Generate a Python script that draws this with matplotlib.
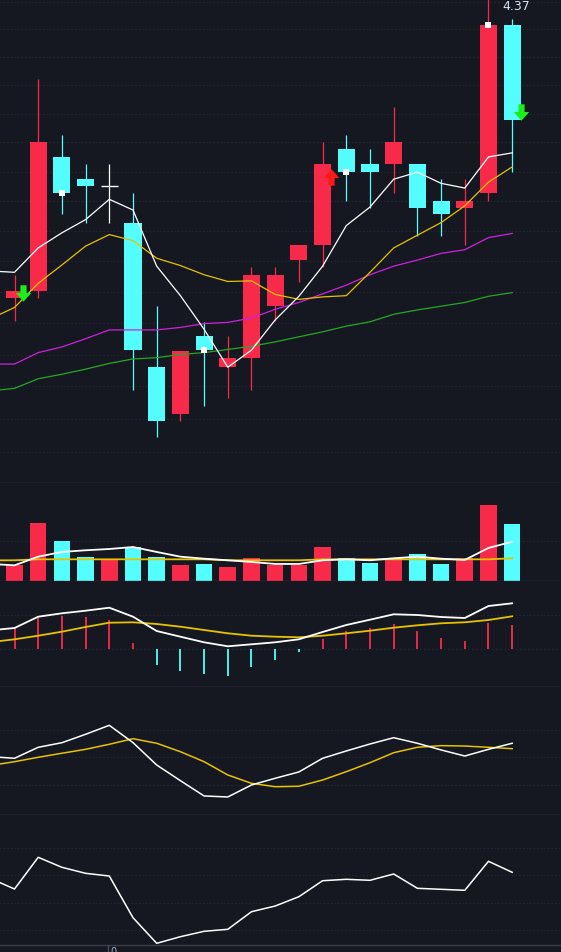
import numpy as np
import matplotlib
matplotlib.use('Agg')
import matplotlib.pyplot as plt
from matplotlib.path import Path
from matplotlib.ticker import NullLocator

# ---------------- data ----------------
idx = list(range(22))
opens  = [3.840, 3.852, 4.075, 4.037, 4.025, 3.964, 3.731, 3.657, 3.779, 3.731, 3.744,
          3.828, 3.902, 3.927, 4.088, 4.063, 4.063, 4.063, 4.001, 3.989, 4.014, 4.308]
highs  = [3.878, 4.210, 4.112, 4.063, 4.063, 4.014, 3.827, 3.756, 3.802, 3.779, 3.891,
          3.891, 3.927, 4.100, 4.112, 4.088, 4.162, 4.063, 4.037, 4.037, 4.370, 4.319]
lows   = [3.803, 3.840, 3.978, 3.964, 3.964, 3.695, 3.622, 3.646, 3.670, 3.682, 3.695,
          3.803, 3.866, 3.891, 4.001, 3.989, 4.014, 3.942, 3.941, 3.927, 4.001, 4.049]
closes = [3.852, 4.100, 4.014, 4.026, 4.025, 3.757, 3.646, 3.756, 3.757, 3.744, 3.877,
          3.877, 3.927, 4.063, 4.049, 4.049, 4.100, 3.989, 3.978, 4.001, 4.308, 4.138]

ma_idx = list(range(-1, 22))
ma5  = [3.884, 3.882, 3.922, 3.947, 3.969, 4.003, 3.985, 3.892, 3.844, 3.790, 3.730, 3.757,
        3.805, 3.843, 3.892, 3.959, 3.990, 4.037, 4.049, 4.030, 4.022, 4.075, 4.082]
ma10 = [3.807, 3.825, 3.864, 3.894, 3.925, 3.944, 3.934, 3.905, 3.893, 3.878, 3.867, 3.868,
        3.846, 3.838, 3.842, 3.844, 3.882, 3.922, 3.943, 3.964, 3.992, 4.032, 4.058]
ma20 = [3.735, 3.735, 3.753, 3.762, 3.775, 3.789, 3.789, 3.789, 3.793, 3.799, 3.801, 3.808,
        3.822, 3.833, 3.847, 3.861, 3.878, 3.892, 3.902, 3.913, 3.919, 3.939, 3.946]
ma60 = [3.693, 3.697, 3.712, 3.719, 3.727, 3.736, 3.743, 3.745, 3.750, 3.753, 3.758, 3.763,
        3.770, 3.778, 3.786, 3.795, 3.802, 3.814, 3.821, 3.827, 3.833, 3.843, 3.849]

mark_idx = [2, 8, 14, 20]          # small white squares at close
sell_idx, sell_price = [0, 21], [3.848, 4.152]
buy_idx, buy_price = [13], [4.040]
max_label = "4.37"
price_grid = [3.60, 3.65, 3.70, 3.75, 3.80, 3.85, 3.90, 3.95, 4.00, 4.05, 4.10, 4.15,
              4.20, 4.25, 4.30, 4.35]

volume = [20, 72.5, 50, 30, 27.1, 42.5, 30, 20, 21.3, 17.5, 28.8, 20, 20, 42.5, 28.8,
          22.5, 28.8, 33.8, 21.3, 28.8, 95, 71.3]
vol_ma5 = [21.3, 19.6, 30.4, 36.3, 38.4, 40.0, 42.5, 36.3, 30.4, 27.9, 25.9, 23.8, 21.3,
           21.3, 25.9, 27.1, 25.9, 28.4, 30.4, 27.9, 26.3, 41.3, 49.1]
vol_ma10 = [25.8, 25.9, 27.1, 27.1, 27.1, 27.1, 27.1, 27.1, 27.1, 27.1, 25.9, 25.9, 25.9,
            25.9, 27.1, 27.1, 27.1, 27.1, 27.1, 27.1, 27.1, 27.1, 28.4]

dif = [0.0190, 0.0213, 0.0326, 0.0360, 0.0386, 0.0416, 0.0326, 0.0183, 0.0126, 0.0070,
       0.0030, 0.0050, 0.0070, 0.0100, 0.0173, 0.0243, 0.0296, 0.0350, 0.0343, 0.0323,
       0.0313, 0.0433, 0.0460]
dea = [0.0072, 0.0100, 0.0136, 0.0176, 0.0223, 0.0266, 0.0270, 0.0253, 0.0226, 0.0193,
       0.0160, 0.0136, 0.0126, 0.0120, 0.0136, 0.0160, 0.0186, 0.0216, 0.0240, 0.0260,
       0.0270, 0.0293, 0.0330]
macd = [0.0213, 0.0333, 0.0333, 0.0323, 0.0293, 0.0063, -0.0154, -0.0217, -0.0244, -0.0267,
        -0.0177, -0.0107, -0.0027, 0.0103, 0.0183, 0.0213, 0.0253, 0.0183, 0.0113, 0.0083,
        0.0263, 0.0243]

k_line = [50.7, 48.9, 60.9, 65.9, 75.1, 84.9, 66.0, 41.6, 24.5, 7.8, 6.7, 19.8, 27.1, 34.0,
          48.9, 56.9, 64.5, 71.4, 65.3, 58.0, 51.4, 58.7, 65.3]
d_line = [41.1, 45.2, 50.0, 54.4, 58.7, 64.2, 70.3, 65.3, 56.1, 45.2, 30.7, 21.6, 17.9, 18.4,
          25.2, 34.3, 44.1, 55.0, 60.9, 62.7, 62.3, 60.9, 59.4]

cci = [-12.1, -50.2, 65.9, 29.3, 7.3, -2.6, -155.3, -249.1, -224.9, -205.1, -197.8, -133.3,
       -112.5, -78.4, -19.8, -14.7, -18.3, 4.8, -47.6, -51.3, -54.9, 51.3, 11.0]

# ---------------- style ----------------
BG = '#151820'
RED = '#f72a4a'
CYAN = '#55fefe'
GRID = '#2c303a'
SEP = '#3a3e48'
YEL = '#e6c200'
MAG = '#cc22dd'
GRN = '#22aa22'
XLIM = (-0.612, 23.06)
DOT = (0, (0.8, 2.4))

W, H = 561, 952
fig = plt.figure(figsize=(W / 100, H / 100), dpi=100, facecolor=BG)


def panel(top_px, bot_px):
    ax = fig.add_axes([0, 1 - bot_px / H, 1, (bot_px - top_px) / H])
    ax.set_facecolor(BG)
    ax.set_xlim(*XLIM)
    for s in ('top', 'left', 'right'):
        ax.spines[s].set_visible(False)
    ax.spines['bottom'].set_color(SEP)
    ax.spines['bottom'].set_linewidth(1.0)
    ax.tick_params(which='both', left=False, bottom=False, labelleft=False, labelbottom=False)
    return ax


# ---- main price panel ----
ax = panel(0, 483)
ax.set_yscale('log')
ax.set_ylim(3.5527, 4.3531)
ax.yaxis.set_major_locator(NullLocator())
ax.yaxis.set_minor_locator(NullLocator())
ax.xaxis.set_major_locator(NullLocator())
for g in price_grid:
    ax.axhline(g, color=GRID, lw=0.8, ls=DOT, zorder=0)

bw = 0.72
for i, o, h, l, c in zip(idx, opens, highs, lows, closes):
    if c > o:
        col = RED
    elif c < o:
        col = CYAN
    else:
        col = 'white'
    ax.vlines(i, l, h, color=col, lw=0.9, zorder=2)
    if c == o:
        ax.hlines(c, i - bw / 2, i + bw / 2, color=col, lw=1.0, zorder=3)
    else:
        ax.bar(i, abs(c - o), bottom=min(o, c), width=bw, color=col, lw=0, zorder=3)

ax.plot(ma_idx, ma60, color=GRN, lw=0.9, zorder=4)
ax.plot(ma_idx, ma20, color=MAG, lw=0.9, zorder=4)
ax.plot(ma_idx, ma10, color=YEL, lw=0.9, zorder=4)
ax.plot(ma_idx, ma5, color='white', lw=0.9, zorder=4)

ax.scatter(mark_idx, [closes[i] for i in mark_idx], marker='s', s=14, color='white',
           lw=0, zorder=5)

down_verts = [(-3, 8), (3, 8), (3, 0.5), (7.5, 0.5), (0, -8), (-7.5, 0.5), (-3, 0.5), (-3, 8)]
down_codes = [Path.MOVETO] + [Path.LINETO] * 6 + [Path.CLOSEPOLY]
down_arrow = Path(down_verts, down_codes)
up_arrow = Path([(x, -y) for x, y in down_verts], down_codes)
ax.scatter([i + 0.36 for i in sell_idx], sell_price, marker=down_arrow, s=140,
           color='#19f019', lw=0, zorder=6)
ax.scatter([i + 0.36 for i in buy_idx], buy_price, marker=up_arrow, s=140,
           color='#ff1a1a', lw=0, zorder=6)

top_i = int(np.argmax(highs))
ax.annotate(max_label, xy=(top_i, highs[top_i]), xytext=(19.8, -11.2),
            textcoords='offset points', color='#d6e2f5', fontsize=9,
            ha='center', va='center', annotation_clip=False,
            arrowprops=dict(arrowstyle='-', color='#d6e2f5', lw=0.8, shrinkA=0, shrinkB=2))

# ---- volume panel ----
av = panel(483, 581)
av.set_ylim(0, 122.5)
av.axhline(50, color=GRID, lw=0.8, ls=DOT, zorder=0)
vcols = [RED if c >= o else CYAN for o, c in zip(opens, closes)]
av.bar(idx, volume, width=0.70, color=vcols, lw=0, zorder=2)
av.plot(ma_idx, vol_ma10, color=YEL, lw=1.3, zorder=3)
av.plot(ma_idx, vol_ma5, color='white', lw=1.3, zorder=4)

# ---- MACD panel ----
am = panel(581, 687)
am.set_ylim(-0.0377, 0.0683)
am.axhline(0, color=GRID, lw=0.9, ls=DOT, zorder=0)
am.axhline(0.034, color=GRID, lw=0.8, ls=DOT, zorder=0)
mcols = [RED if v >= 0 else CYAN for v in macd]
am.vlines(idx, 0, macd, colors=mcols, lw=1.3, zorder=2)
am.plot(ma_idx, dea, color=YEL, lw=1.3, zorder=3)
am.plot(ma_idx, dif, color='white', lw=1.3, zorder=4)

# ---- KD panel ----
ak = panel(687, 815.3)
ak.set_ylim(-13.3, 126.7)
for g in (20, 50, 80):
    ak.axhline(g, color=GRID, lw=0.8, ls=DOT, zorder=0)
ak.plot(ma_idx, d_line, color=YEL, lw=1.1, zorder=3)
ak.plot(ma_idx, k_line, color='white', lw=1.1, zorder=4)

# ---- CCI panel ----
ac = panel(815.3, 945.3)
ac.set_ylim(-256.4, 219.8)
for g in (100, 0, -100, -200):
    ac.axhline(g, color=GRID, lw=0.8, ls=DOT, zorder=0)
ac.plot(ma_idx, cci, color='white', lw=1.1, zorder=4)

# ---- bottom strip (date axis, cut off) ----
ab = fig.add_axes([0, 0, 1, 6.7 / H])
ab.set_facecolor(BG)
ab.set_xlim(*XLIM)
ab.set_ylim(0, 1)
ab.axis('off')
ab.axvline(3.96, color='#4a4e58', lw=0.9)
ab.text(4.05, 0.75, '0', color='#9fb4d0', fontsize=7, ha='left', va='top', clip_on=False)

fig.savefig('out.png', dpi=100, facecolor=BG)
